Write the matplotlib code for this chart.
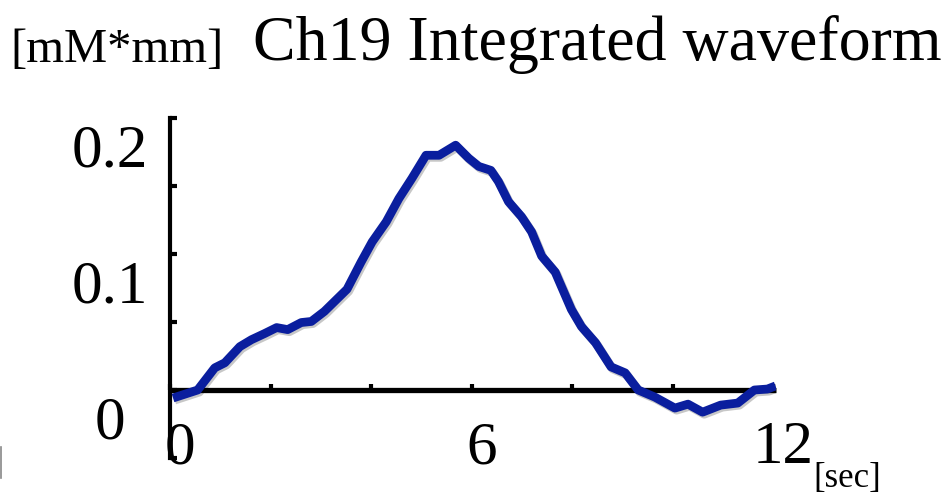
import numpy as np
import matplotlib
matplotlib.use("Agg")
import matplotlib.pyplot as plt
import matplotlib.patheffects as pe
from matplotlib.transforms import ScaledTranslation

# integrated waveform
time_sec = [0.06, 0.55, 0.89, 1.09, 1.39, 1.62, 1.88, 2.12, 2.34, 2.61, 2.81,
            3.07, 3.52, 3.80, 4.02, 4.30, 4.55, 4.81, 5.09, 5.35, 5.68, 5.94,
            6.14, 6.38, 6.53, 6.73, 6.99, 7.19, 7.39, 7.66, 7.72, 7.98, 8.18,
            8.46, 8.77, 9.05, 9.31, 9.64, 10.04, 10.30, 10.59, 10.95, 11.29,
            11.62, 11.88, 12.04]
value = [-0.0059, 0.0, 0.0163, 0.020, 0.0319, 0.037, 0.0415, 0.0459, 0.0444,
         0.0496, 0.0504, 0.0578, 0.0741, 0.0941, 0.1089, 0.1237, 0.1407,
         0.1556, 0.1726, 0.1726, 0.180, 0.1704, 0.1644, 0.1615, 0.1533,
         0.1385, 0.1274, 0.1163, 0.0985, 0.0867, 0.0815, 0.0593, 0.0467,
         0.0348, 0.0170, 0.0126, 0.0, -0.0052, -0.0133, -0.0104, -0.0163,
         -0.0111, -0.0096, 0.0, 0.0007, 0.003]

yticks = [-0.05, 0.0, 0.05, 0.1, 0.15, 0.2]
ytick_labels = ['', '0', '', '0.1', '', '0.2']
xticks = [0, 2, 4, 6, 8, 10, 12]
xtick_labels = ['0', '', '', '6', '', '', '12']

title = "Ch19 Integrated waveform"
unit_y = "[mM*mm]"
unit_x = "[sec]"

serif = ['Liberation Serif', 'DejaVu Serif']
plt.rcParams['font.family'] = serif

fig = plt.figure(figsize=(9.53, 4.95), dpi=100)
ax = fig.add_axes([170/953, 1-458/495, (776-170)/953, (458-118)/495])

ax.plot(time_sec, value, color='#0a1e9e', lw=6.3, solid_capstyle='butt',
        solid_joinstyle='round', zorder=3,
        path_effects=[pe.SimpleLineShadow(offset=(1.2, -1.5), alpha=0.22),
                      pe.Normal()])

ax.set_xlim(0, 12.05)
ax.set_ylim(-0.05, 0.2)

for s in ['top', 'right']:
    ax.spines[s].set_visible(False)
ax.spines['bottom'].set_position(('data', 0))
ax.spines['bottom'].set_linewidth(3.8)
ax.spines['left'].set_linewidth(3.0)
ax.spines['bottom'].set_capstyle('butt')

ax.set_yticks(yticks, ytick_labels)
ax.set_xticks(xticks, xtick_labels)
ax.tick_params(axis='y', direction='in', length=5, width=3, labelsize=44, pad=43)
ax.tick_params(axis='x', direction='in', length=4, width=3, labelsize=44, pad=22)

for lab in ax.get_yticklabels():
    lab.set_horizontalalignment('center')
    lab.set_transform(lab.get_transform() + ScaledTranslation(0, -0.27, fig.dpi_scale_trans))
for lab in ax.get_xticklabels():
    lab.set_transform(lab.get_transform() + ScaledTranslation(0.1, 0, fig.dpi_scale_trans))

fig.text(253/953, 1-60/495, title, fontsize=46, va='baseline', ha='left')
fig.text(10/953, 1-62/495, unit_y, fontsize=35, va='baseline', ha='left')
fig.text(813/953, 1-487/495, unit_x, fontsize=25, va='baseline', ha='left')

# small grey edge mark at the left border
fig.add_artist(plt.Line2D([0.001, 0.001], [1-478/495, 1-447/495], color='#888888', lw=1.2))

fig.savefig('out.png', dpi=100)
